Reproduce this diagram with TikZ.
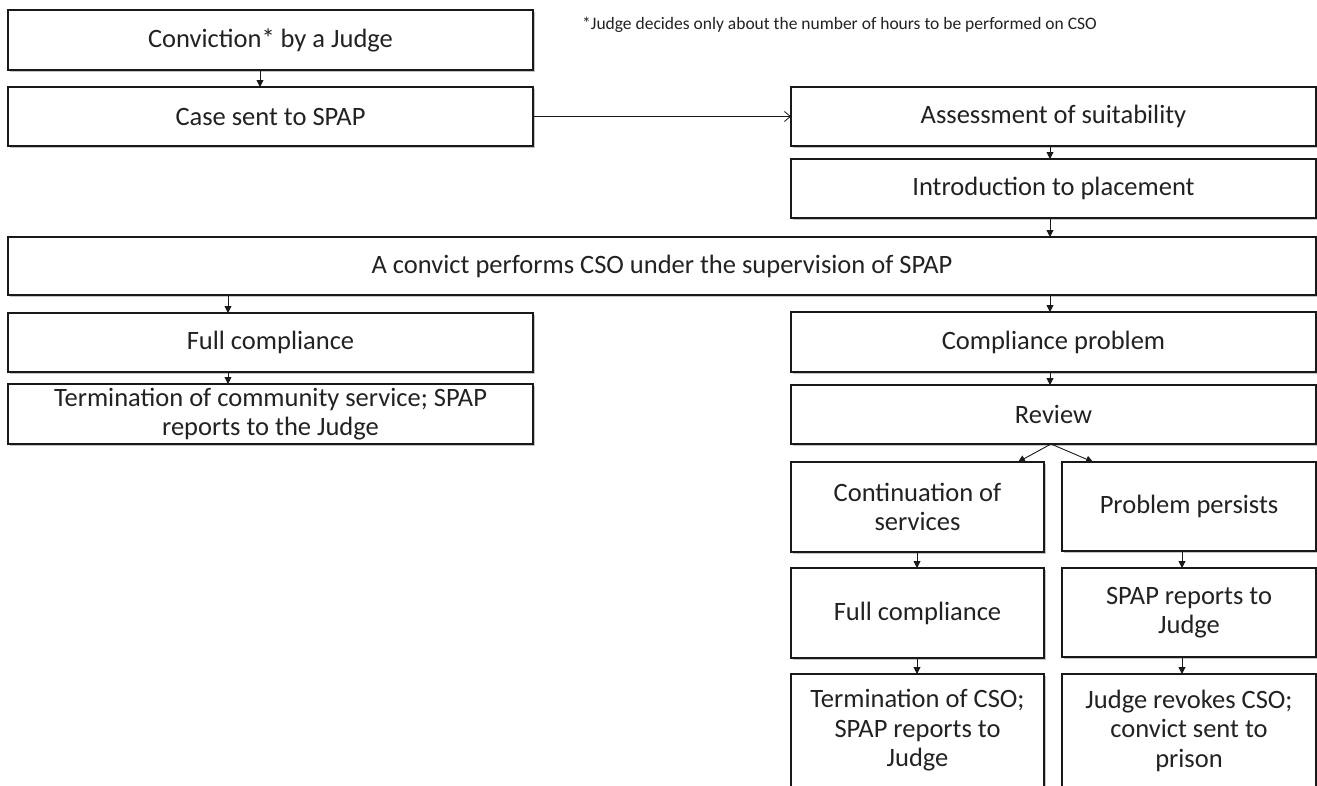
\documentclass[tikz,border=0pt]{standalone}
\usepackage{fontspec}
\setmainfont{Carlito}
\usetikzlibrary{arrows.meta,shadows}
\definecolor{ink}{HTML}{222222}
\tikzset{
  box/.style={draw=black!90, line width=1.1pt, fill=white, anchor=north west,
    inner sep=0pt, outer sep=0pt, align=center, text=ink,
    font=\fontsize{26.5}{29.5}\selectfont,
    drop shadow={opacity=0.45, shadow xshift=2pt, shadow yshift=-2pt}},
  arr/.style={draw=black!90, line width=0.9pt, -{Triangle[length=7pt,width=7pt]}},
  openarr/.style={draw=black!90, line width=0.9pt, -{Straight Barb[length=6pt,width=10pt,line width=0.8pt]}},
}
\begin{document}
\begin{tikzpicture}[x=1pt,y=-1pt]
\useasboundingbox (0,0) rectangle (1317,785);
\fill[white] (0,0) rectangle (1317,785);
\clip (0,0) rectangle (1317,785);

\node[box, minimum width=525pt, minimum height=60pt] (b1) at (8,10) {Conviction* by a Judge};
\node[box, minimum width=525pt, minimum height=59pt] (b2) at (8,87) {Case sent to SPAP};
\node[box, minimum width=525pt, minimum height=59pt] (a1) at (791,87) {Assessment of suitability};
\node[box, minimum width=525pt, minimum height=59pt] (a2) at (791,159) {Introduction to placement};
\node[box, minimum width=1308pt, minimum height=58pt] (cso) at (8,237) {A convict performs CSO under the supervision of SPAP};
\node[box, minimum width=525pt, minimum height=59pt] (fc) at (8,313) {Full compliance};
\node[box, minimum width=525pt, minimum height=60pt] (term) at (8,384) {Termination of community service; SPAP\\reports to the Judge};
\node[box, minimum width=525pt, minimum height=60pt] (cp) at (791,312) {Compliance problem};
\node[box, minimum width=525pt, minimum height=59pt] (rev) at (791,385) {Review};
\node[box, minimum width=253pt, minimum height=90pt] (cont) at (791,462) {Continuation of\\services};
\node[box, minimum width=254pt, minimum height=89pt] (pp) at (1062,462) {Problem persists};
\node[box, minimum width=253pt, minimum height=90pt] (fc2) at (791,568) {Full compliance};
\node[box, minimum width=254pt, minimum height=89pt] (sr) at (1062,568) {SPAP reports to\\Judge};
\node[box, minimum width=253pt, minimum height=113pt] (tc) at (791,674) {Termination of CSO;\\SPAP reports to\\Judge};
\node[box, minimum width=254pt, minimum height=113pt] (jr) at (1062,674) {Judge revokes CSO;\\convict sent to\\prison};

\node[anchor=west, text=ink, font=\fontsize{17.5}{20}\selectfont, inner sep=0pt] (fn) at (582,25) {*Judge decides only about the number of hours to be performed on CSO};

\coordinate (xa) at (260,0);
\coordinate (xb) at (1050,0);
\coordinate (xc) at (228,0);
\coordinate (xd) at (917,0);
\coordinate (xe) at (1182,0);
\coordinate (xf) at (1051,0);
\coordinate (xg) at (1018,0);
\coordinate (xh) at (1093,0);

\draw[arr] (b1.south -| xa) -- (b2.north -| xa);
\draw[openarr] (b2.east) -- (a1.west);
\draw[arr] (a1.south -| xb) -- (a2.north -| xb);
\draw[arr] (a2.south -| xb) -- (cso.north -| xb);
\draw[arr] (cso.south -| xc) -- (fc.north -| xc);
\draw[arr] (fc.south -| xc) -- (term.north -| xc);
\draw[arr] (cso.south -| xb) -- (cp.north -| xb);
\draw[arr] (cp.south -| xb) -- (rev.north -| xb);
\draw[arr] (rev.south -| xf) -- (cont.north -| xg);
\draw[arr] (rev.south -| xf) -- (pp.north -| xh);
\draw[arr] (cont.south -| xd) -- (fc2.north -| xd);
\draw[arr] (fc2.south -| xd) -- (tc.north -| xd);
\draw[arr] (pp.south -| xe) -- (sr.north -| xe);
\draw[arr] (sr.south -| xe) -- (jr.north -| xe);
\end{tikzpicture}
\end{document}
